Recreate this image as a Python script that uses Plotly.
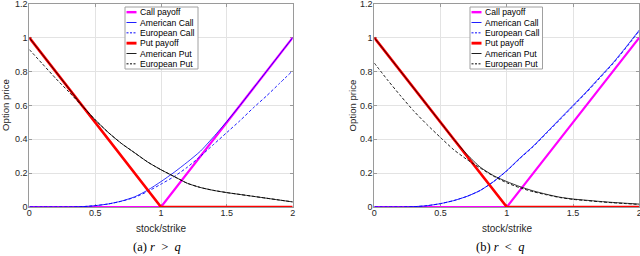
import plotly.graph_objects as go

# ---------------- data ----------------
S = [0.0, 0.1, 0.2, 0.3, 0.4, 0.5, 0.6, 0.7, 0.8, 0.9, 1.0,
     1.1, 1.2, 1.3, 1.4, 1.5, 1.6, 1.7, 1.8, 1.9, 2.0]
payoff_x = [0.0, 1.0, 2.0]
call_payoff = [0.0, 0.0, 1.0]
put_payoff = [1.0, 0.0, 0.0]

# (a) r > q
a_am_call = [0, 0, 0, 0, 0.002, 0.008, 0.018, 0.035, 0.06, 0.10, 0.15,
             0.205, 0.265, 0.33, 0.415, 0.505, 0.60, 0.70, 0.80, 0.90, 1.0]
a_eu_call = [0, 0, 0, 0, 0.002, 0.008, 0.018, 0.034, 0.057, 0.092, 0.135,
             0.18, 0.235, 0.30, 0.37, 0.44, 0.51, 0.585, 0.655, 0.73, 0.805]
a_am_put = [1.0, 0.9, 0.8, 0.7, 0.6, 0.515, 0.44, 0.375, 0.32, 0.265, 0.22,
            0.18, 0.14, 0.115, 0.098, 0.085, 0.074, 0.063, 0.052, 0.041, 0.03]
a_eu_put = [0.93, 0.845, 0.76, 0.68, 0.598, 0.515, 0.44, 0.375, 0.32, 0.265, 0.22,
            0.18, 0.14, 0.115, 0.098, 0.085, 0.074, 0.063, 0.052, 0.041, 0.03]

# (b) r < q
b_am_call = [0, 0, 0, 0.002, 0.008, 0.02, 0.038, 0.063, 0.098, 0.15, 0.215,
             0.29, 0.36, 0.44, 0.52, 0.60, 0.68, 0.765, 0.85, 0.945, 1.045]
b_eu_call = [0, 0, 0, 0.002, 0.008, 0.02, 0.038, 0.063, 0.098, 0.15, 0.213,
             0.287, 0.357, 0.436, 0.515, 0.595, 0.675, 0.76, 0.845, 0.94, 1.04]
b_am_put = [1.0, 0.9, 0.8, 0.7, 0.6, 0.5, 0.4, 0.31, 0.235, 0.185, 0.15,
            0.12, 0.095, 0.075, 0.058, 0.047, 0.04, 0.033, 0.027, 0.022, 0.017]
b_eu_put = [0.85, 0.75, 0.655, 0.565, 0.485, 0.41, 0.338, 0.28, 0.23, 0.182, 0.143,
            0.113, 0.09, 0.072, 0.056, 0.045, 0.038, 0.031, 0.025, 0.02, 0.015]

x_ticks = [0, 0.5, 1, 1.5, 2]
x_tick_text = ["0", "0.5", "1", "1.5", "2"]
y_ticks = [0, 0.2, 0.4, 0.6, 0.8, 1, 1.2]
y_tick_text = ["0", "0.2", "0.4", "0.6", "0.8", "1", "1.2"]
legend_names = ["Call payoff", "American Call", "European Call",
                "Put payoff", "American Put", "European Put"]
captions = ["(a)&nbsp;<i>r</i>&nbsp;&nbsp;&gt;&nbsp;&nbsp;<i>q</i>",
            "(b)&nbsp;<i>r</i>&nbsp;&nbsp;&lt;&nbsp;&nbsp;<i>q</i>"]

# ---------------- styles ----------------
W, H = 640, 256
styles = [
    dict(color="#ff00ff", width=2.2, dash="solid"),
    dict(color="#0000ff", width=0.8, dash="solid"),
    dict(color="#0000ff", width=0.9, dash="3px,2px"),
    dict(color="#ff0000", width=2.6, dash="solid"),
    dict(color="#000000", width=0.8, dash="solid"),
    dict(color="#000000", width=0.9, dash="3px,2px"),
]

panels = [
    dict(xa="x", ya="y", xd=(29.3, 292.7), series=[call_payoff, a_am_call, a_eu_call, put_payoff, a_am_put, a_eu_put],
         leg=(125, 198), ytitle_x=5.5, cap_x=157),
    dict(xa="x2", ya="y2", xd=(374.3, 639.3), series=[call_payoff, b_am_call, b_eu_call, put_payoff, b_am_put, b_eu_put],
         leg=(470, 542.5), ytitle_x=352, cap_x=500),
]

plot_top, plot_bot = 3.8, 207.0


def px(xp):
    return xp / W


def py(yp):
    return 1 - yp / H


fig = go.Figure()
shapes, annotations = [], []
font_sans = "Liberation Sans, Arial, Helvetica, sans-serif"
txt_color = "#262626"

for pi, p in enumerate(panels):
    for si, (name, st) in enumerate(zip(legend_names, styles)):
        ys = p["series"][si]
        xs = payoff_x if si in (0, 3) else S
        fig.add_trace(go.Scatter(
            x=xs, y=ys, mode="lines", name=name, showlegend=False,
            line=dict(color=st["color"], width=st["width"], dash=st["dash"],
                      shape="linear" if si in (0, 3) else "spline", smoothing=0.6),
            xaxis=p["xa"], yaxis=p["ya"], cliponaxis=False,
        ))
    # legend box
    lx0, lx1 = p["leg"]
    ly0, ly1 = 7, 69
    shapes.append(dict(type="rect", xref="paper", yref="paper",
                       x0=px(lx0), x1=px(lx1), y0=py(ly0), y1=py(ly1),
                       line=dict(color="#a0a0a0", width=1), fillcolor="white", layer="above"))
    row_h = (ly1 - ly0) / 6
    for si, (name, st) in enumerate(zip(legend_names, styles)):
        yc = ly0 + row_h * (si + 0.5)
        dash = st["dash"] if st["dash"] == "solid" else "2px,1.5px"
        shapes.append(dict(type="line", xref="paper", yref="paper",
                           x0=px(lx0 + 1.5), x1=px(lx0 + 11.5), y0=py(yc), y1=py(yc),
                           line=dict(color=st["color"], width=st["width"] * 1.1, dash=dash), layer="above"))
        annotations.append(dict(text=name, xref="paper", yref="paper",
                                x=px(lx0 + 12.5), y=py(yc), xanchor="left", yanchor="middle",
                                showarrow=False, font=dict(family=font_sans, size=8.6, color="#000000")))
    # axis titles
    xc = (p["xd"][0] + p["xd"][1]) / 2
    annotations.append(dict(text="stock/strike", xref="paper", yref="paper",
                            x=px(xc), y=py(228), xanchor="center", yanchor="middle",
                            showarrow=False, font=dict(family=font_sans, size=10, color=txt_color)))
    annotations.append(dict(text="Option price", xref="paper", yref="paper",
                            x=px(p["ytitle_x"]), y=py((plot_top + plot_bot) / 2), xanchor="center", yanchor="middle",
                            textangle=-90, showarrow=False,
                            font=dict(family=font_sans, size=9.6, color=txt_color)))
    annotations.append(dict(text=captions[pi], xref="paper", yref="paper",
                            x=px(p["cap_x"]), y=py(246.5), xanchor="center", yanchor="middle",
                            showarrow=False,
                            font=dict(family="Liberation Serif, Times New Roman, serif", size=12.5, color="#000000")))

axis_common = dict(
    showgrid=True, gridcolor="#e3e3e3", gridwidth=1,
    showline=True, linecolor="#9a9a9a", linewidth=1, mirror="ticks",
    ticks="inside", ticklen=3, tickcolor="#9a9a9a", tickwidth=1,
    tickfont=dict(family=font_sans, size=9, color=txt_color),
    zeroline=False, layer="below traces", fixedrange=True,
    ticklabeloverflow="allow",
)

layout = dict(
    width=W, height=H, margin=dict(l=0, r=0, t=0, b=0, pad=0, autoexpand=False),
    paper_bgcolor="white", plot_bgcolor="white",
    shapes=shapes, annotations=annotations, showlegend=False,
)
for pi, p in enumerate(panels):
    suffix = "" if pi == 0 else "2"
    layout["xaxis" + suffix] = dict(axis_common, domain=[px(p["xd"][0]), px(p["xd"][1])],
                                    range=[0, 2], tickvals=x_ticks, ticktext=x_tick_text,
                                    anchor="y" + suffix, ticklabelstandoff=-3)
    layout["yaxis" + suffix] = dict(axis_common, domain=[py(plot_bot), py(plot_top)],
                                    range=[0, 1.2], tickvals=y_ticks, ticktext=y_tick_text,
                                    anchor="x" + suffix, ticklabelstandoff=-1)

fig.update_layout(**layout)
fig.write_html("out.html", post_script="document.body.style.margin='0';",
               config={"displayModeBar": False})
